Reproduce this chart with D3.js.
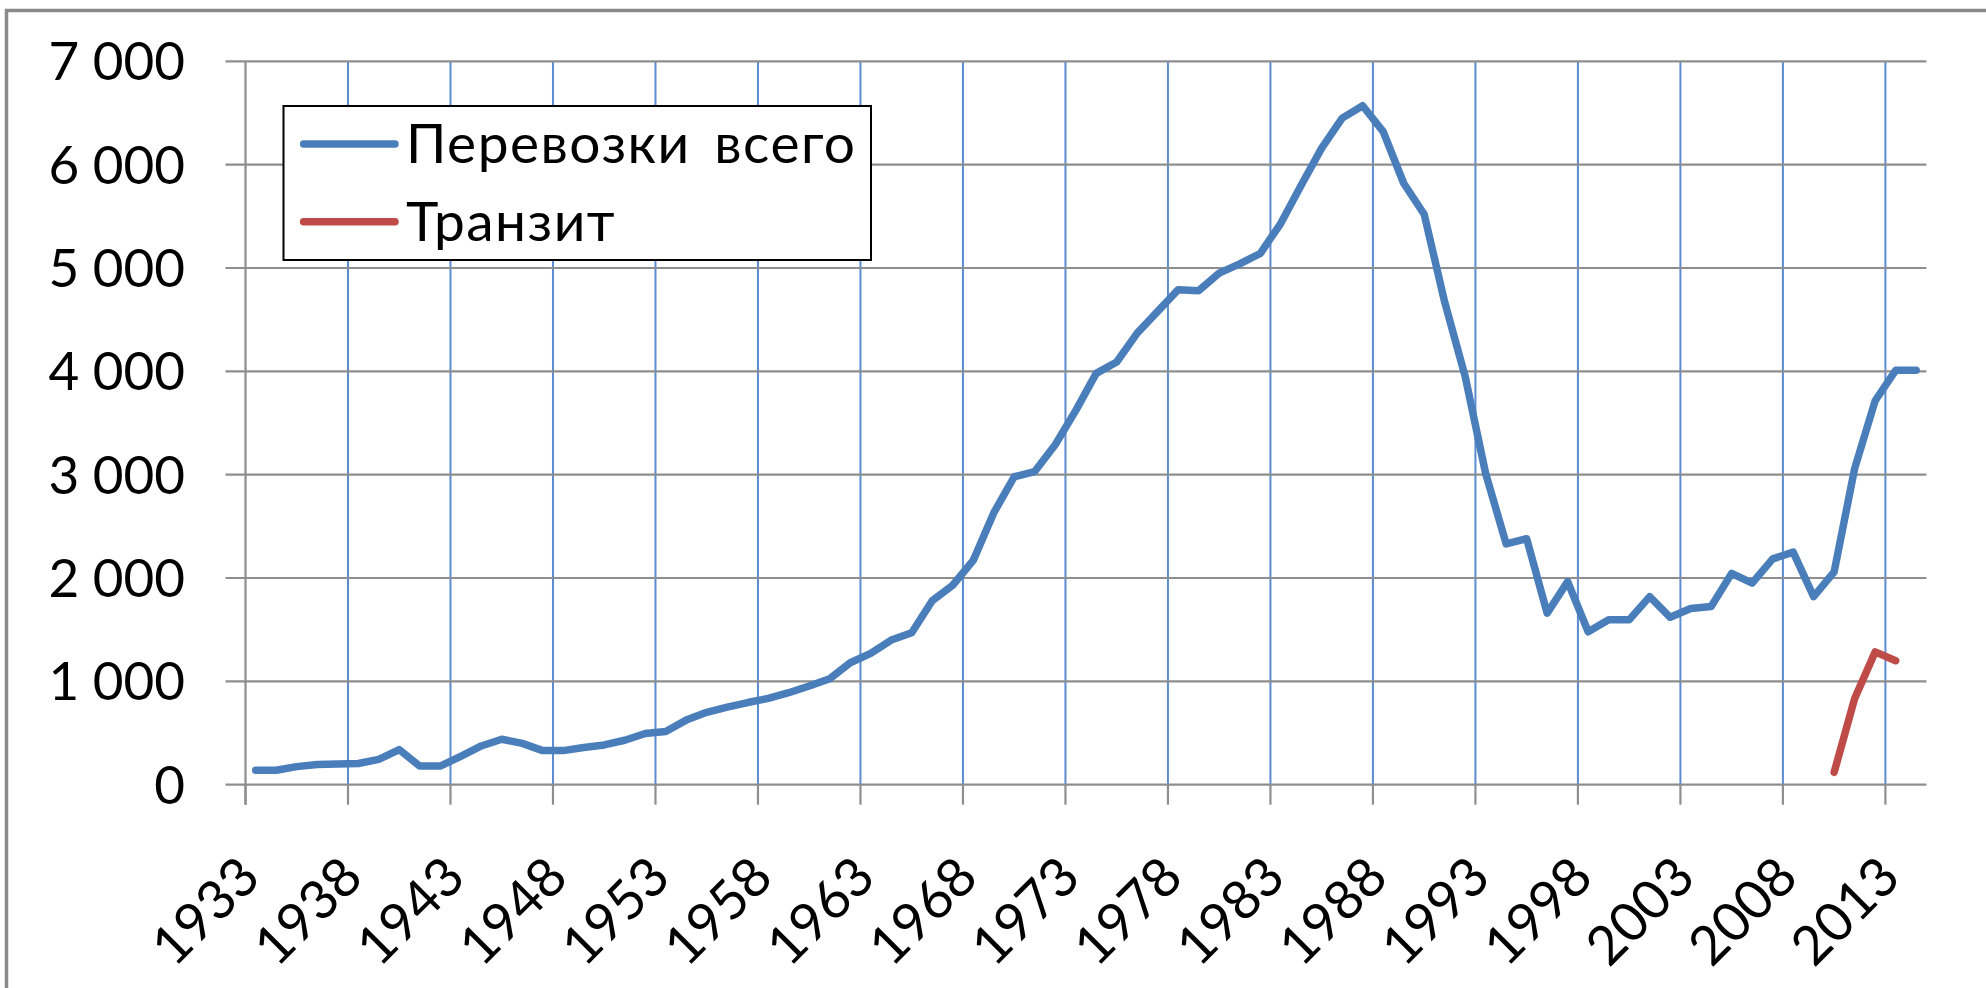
<!DOCTYPE html>
<html>
<head>
<meta charset="utf-8">
<script src="https://cdn.jsdelivr.net/npm/d3@7/dist/d3.min.js"></script>
<style>
  html, body { margin: 0; padding: 0; background: #fff; }
  svg { display: block; }
  text { font-family: Lato, "Open Sans", sans-serif; fill: #000; }
</style>
</head>
<body>
<svg id="chart" width="1986" height="988"></svg>
<script>
// ---- data ----
const years = d3.range(1933, 2015);
const totalSeries = [
  140, 140, 175, 195, 200, 205, 245, 340, 180, 180,   // 1933-1942
  275, 375, 440, 400, 330, 330, 360, 385, 430, 495,   // 1943-1952
  515, 625, 700, 750, 795, 835, 890, 955, 1025, 1180, // 1953-1962
  1270, 1400, 1470, 1780, 1930, 2170, 2630, 2980, 3030, 3290, // 1963-1972
  3620, 3980, 4090, 4370, 4580, 4790, 4780, 4950, 5040, 5140, // 1973-1982
  5430, 5800, 6160, 6450, 6570, 6320, 5820, 5520, 4670, 3950, // 1983-1992
  3010, 2330, 2380, 1660, 1965, 1480, 1595, 1595, 1820, 1620, // 1993-2002
  1705, 1725, 2045, 1950, 2185, 2250, 1820, 2060, 3060, 3715, // 2003-2012
  4010, 4010                                                   // 2013-2014
];
const transitYears = [2010, 2011, 2012, 2013];
const transitSeries = [120, 835, 1285, 1200];
const yTicks = [0, 1000, 2000, 3000, 4000, 5000, 6000, 7000];
const xTickYears = [1933, 1938, 1943, 1948, 1953, 1958, 1963, 1968, 1973, 1978, 1983, 1988, 1993, 1998, 2003, 2008, 2013];
const seriesNames = ["Перевозки всего", "Транзит"];
const seriesColors = ["#4a7ebb", "#be4b48"];

// ---- layout ----
const svg = d3.select("#chart");
const plotL = 245.5, plotR = 1926.4, plotT = 61.3, plotB = 784.7;

const x = d3.scaleBand().domain(years).range([plotL, plotR]).padding(0);
const y = d3.scaleLinear().domain([0, 7000]).range([plotB, plotT]);
const cx = yr => x(yr) + x.bandwidth() / 2;

const fmt = v => d3.format(",")(v).replace(/,/g, " ");

// outer chart border
svg.append("rect")
  .attr("x", 6.5).attr("y", 10.5)
  .attr("width", 2100).attr("height", 1100)
  .attr("fill", "none").attr("stroke", "#8a8a8a").attr("stroke-width", 3.5);

// vertical gridlines (blue)
svg.append("g").selectAll("line")
  .data(xTickYears.slice(1))
  .join("line")
  .attr("x1", d => x(d)).attr("x2", d => x(d))
  .attr("y1", plotT).attr("y2", plotB)
  .attr("stroke", "#5b8bd0").attr("stroke-width", 2);

// horizontal gridlines (gray), extend left as ticks
svg.append("g").selectAll("line")
  .data(yTicks)
  .join("line")
  .attr("x1", plotL - 20).attr("x2", plotR)
  .attr("y1", d => y(d)).attr("y2", d => y(d))
  .attr("stroke", "#8e8e8e").attr("stroke-width", 2.2);

// y axis line
svg.append("line")
  .attr("x1", plotL).attr("x2", plotL)
  .attr("y1", plotT).attr("y2", plotB + 20)
  .attr("stroke", "#8e8e8e").attr("stroke-width", 2.2);

// x ticks below axis
svg.append("g").selectAll("line")
  .data(xTickYears)
  .join("line")
  .attr("x1", d => x(d)).attr("x2", d => x(d))
  .attr("y1", plotB).attr("y2", plotB + 20)
  .attr("stroke", "#8e8e8e").attr("stroke-width", 2.2);

// y labels
svg.append("g").selectAll("text")
  .data(yTicks)
  .join("text")
  .attr("x", 185).attr("y", d => y(d) + 19)
  .attr("text-anchor", "end")
  .attr("font-size", 53)
  .text(d => fmt(d));

// x labels (rotated)
svg.append("g").selectAll("text")
  .data(xTickYears)
  .join("text")
  .attr("transform", d => `translate(${cx(d) + 7},${880}) rotate(-45)`)
  .attr("text-anchor", "end")
  .attr("font-size", 54)
  .text(d => d);

// lines
const line = d3.line()
  .x(d => cx(d[0]))
  .y(d => y(d[1]));

svg.append("path")
  .datum(years.map((yr, i) => [yr, totalSeries[i]]))
  .attr("d", line)
  .attr("fill", "none")
  .attr("stroke", seriesColors[0])
  .attr("stroke-width", 7.5)
  .attr("stroke-linejoin", "round")
  .attr("stroke-linecap", "round");

svg.append("path")
  .datum(transitYears.map((yr, i) => [yr, transitSeries[i]]))
  .attr("d", line)
  .attr("fill", "none")
  .attr("stroke", seriesColors[1])
  .attr("stroke-width", 7.5)
  .attr("stroke-linejoin", "round")
  .attr("stroke-linecap", "round");

// legend
const lg = svg.append("g");
lg.append("rect")
  .attr("x", 283.5).attr("y", 106)
  .attr("width", 587.5).attr("height", 154)
  .attr("fill", "#fff").attr("stroke", "#000").attr("stroke-width", 2);
seriesNames.forEach((name, i) => {
  const ly = i === 0 ? 144 : 221.7;
  lg.append("line")
    .attr("x1", 303.6).attr("x2", 395)
    .attr("y1", ly).attr("y2", ly)
    .attr("stroke", seriesColors[i]).attr("stroke-width", 7.5)
    .attr("stroke-linecap", "round");
  lg.append("text")
    .attr("x", 406).attr("y", ly + 19)
    .attr("font-size", 55)
    .attr("letter-spacing", 1.5)
    .attr("word-spacing", 8)
    .text(name);
});
</script>
</body>
</html>
